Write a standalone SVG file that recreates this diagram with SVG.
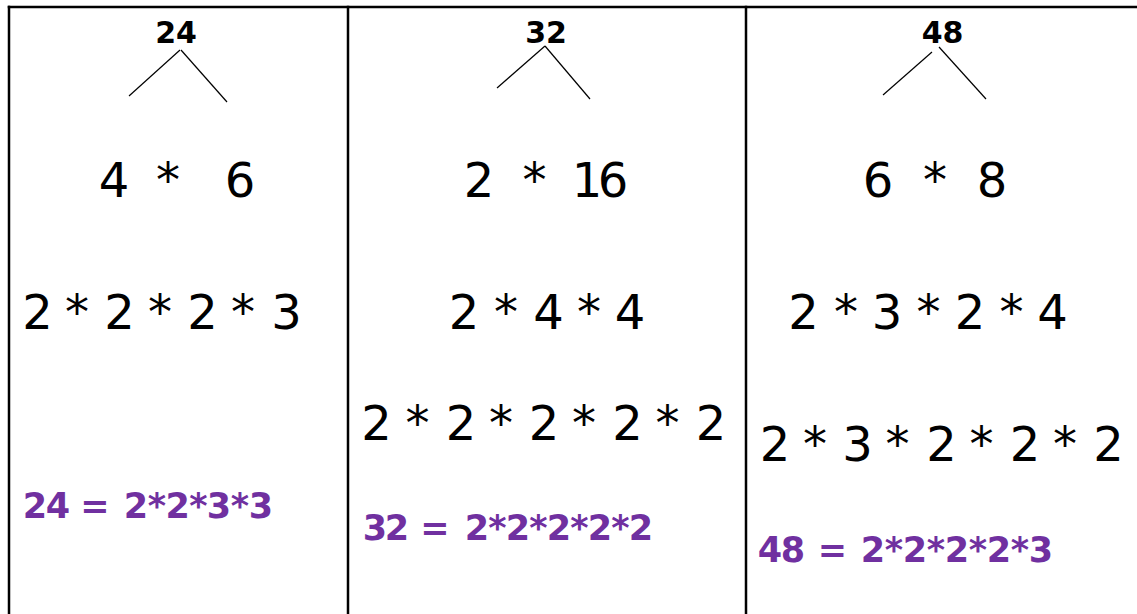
<svg xmlns="http://www.w3.org/2000/svg" width="1137" height="614" viewBox="0 0 1137 614">
<style>
.bg{fill:#ffffff}
.border{stroke:#000000;stroke-width:2.5;fill:none}
.tree{stroke:#000000;stroke-width:1.2;fill:none}
.top{font-family:"DejaVu Sans","Noto Sans",sans-serif;font-weight:bold;font-size:30px;fill:#000000;text-anchor:middle}
.big{font-family:"DejaVu Sans","Noto Sans",sans-serif;font-size:48px;fill:#000000;text-anchor:middle}
.res{font-family:"DejaVu Sans","Noto Sans",sans-serif;font-weight:bold;font-size:35px;fill:#7030A0;text-anchor:middle}
</style>
<rect class="bg" x="0" y="0" width="1137" height="614"/>
<g id="table">
<line class="border" x1="7.75" y1="7" x2="1137" y2="7"/>
<line class="border" x1="9" y1="5.75" x2="9" y2="614"/>
<line class="border" x1="348" y1="5.75" x2="348" y2="614"/>
<line class="border" x1="746" y1="5.75" x2="746" y2="614"/>
</g>
<g id="connectors">
<line class="tree" x1="180" y1="50" x2="129" y2="96"/>
<line class="tree" x1="181" y1="50" x2="227" y2="102"/>
<line class="tree" x1="545" y1="46" x2="497" y2="88"/>
<line class="tree" x1="545" y1="46" x2="590" y2="99"/>
<line class="tree" x1="932" y1="52" x2="883" y2="95"/>
<line class="tree" x1="939" y1="47" x2="986" y2="99"/>
</g>
<g id="col-24">
<text class="top" x="176" y="43">24</text>
<text class="big" x="114 141 168 204 240" y="197">4 * 6</text>
<text class="big" x="37.5 57 77 98 119.5 140 160 181 202.5 223 243 265 286.5" y="329">2 * 2 * 2 * 3</text>
<text class="res" x="35 58 77 95 113 136 157 177.6 198.5 219 240 261" y="518">24 = 2*2*3*3</text>
</g>
<g id="col-32">
<text class="top" x="546" y="43">32</text>
<text class="big" x="479 507 534.5 560 587 613" y="197">2 * 16</text>
<text class="big" x="464 485 506 527 548.5 569 589 610 630" y="329">2 * 4 * 4</text>
<text class="big" x="376.5 397 417.5 439 461 481 501 522 544 564 584 606 627.5 647 667.5 689 711" y="440">2 * 2 * 2 * 2 * 2</text>
<text class="res" x="375 397 412 435 454 477 497.5 518 538.5 559 579.5 600 620.5 641" y="540">32 = 2*2*2*2*2</text>
</g>
<g id="col-48">
<text class="top" x="942.5" y="43">48</text>
<text class="big" x="878 906 935 963 992" y="197">6 * 8</text>
<text class="big" x="803.5 825 846 866 887 908 928.5 949 970 991 1011.5 1032 1052.5" y="329">2 * 3 * 2 * 4</text>
<text class="big" x="775 795 815 836 857.5 878 897.5 920 941.5 962 981.5 1003 1025 1045 1065 1087 1108.5" y="461">2 * 3 * 2 * 2 * 2</text>
<text class="res" x="770 793 814 832.5 847 873 894 915 936 957 978 999 1020 1041" y="562">48 = 2*2*2*2*3</text>
</g>
</svg>
